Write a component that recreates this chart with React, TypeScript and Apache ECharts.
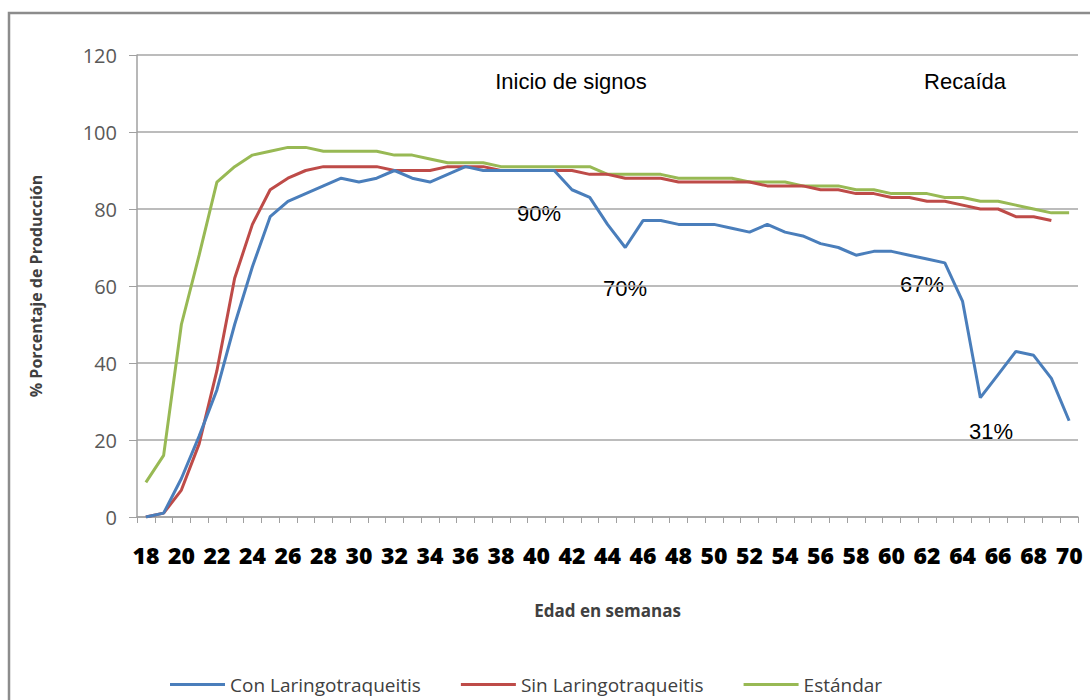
import React, { useEffect, useRef } from "react";
import * as echarts from "echarts";

const weeks: string[] = [];
for (let w = 18; w <= 70; w++) weeks.push(String(w));

const conLaringo = [
  0, 1, 10, 21, 33, 50, 65, 78, 82, 84, 86, 88, 87, 88, 90, 88, 87, 89, 91, 90,
  90, 90, 90, 90, 85, 83, 76, 70, 77, 77, 76, 76, 76, 75, 74, 76, 74, 73, 71, 70,
  68, 69, 69, 68, 67, 66, 56, 31, 37, 43, 42, 36, 25,
];
const sinLaringo = [
  0, 1, 7, 19, 38, 62, 76, 85, 88, 90, 91, 91, 91, 91, 90, 90, 90, 91, 91, 91,
  90, 90, 90, 90, 90, 89, 89, 88, 88, 88, 87, 87, 87, 87, 87, 86, 86, 86, 85, 85,
  84, 84, 83, 83, 82, 82, 81, 80, 80, 78, 78, 77, null,
];
const estandar = [
  9, 16, 50, 68, 87, 91, 94, 95, 96, 96, 95, 95, 95, 95, 94, 94, 93, 92, 92, 92,
  91, 91, 91, 91, 91, 91, 89, 89, 89, 89, 88, 88, 88, 88, 87, 87, 87, 86, 86, 86,
  85, 85, 84, 84, 84, 83, 83, 82, 82, 81, 80, 79, 79,
];

const seriesNames = ["Con Laringotraqueitis", "Sin Laringotraqueitis", "Estándar"];
const seriesColors = ["#4A7EBB", "#BE4B48", "#98B954"];

const annotations = [
  { text: "Inicio de signos", x: 571, y: 81 },
  { text: "Recaída", x: 965, y: 81 },
  { text: "90%", x: 539, y: 213 },
  { text: "70%", x: 625, y: 288 },
  { text: "67%", x: 922, y: 284 },
  { text: "31%", x: 991, y: 431 },
];

export default function App() {
  const ref = useRef<HTMLDivElement>(null);
  useEffect(() => {
    if (!ref.current) return;
    const chart = echarts.init(ref.current, null, { renderer: "svg" });
    const data = [conLaringo, sinLaringo, estandar];
    chart.setOption({
      animation: false,
      backgroundColor: "#ffffff",
      grid: { left: 137, right: 12, top: 55, bottom: 183 },
      legend: {
        data: seriesNames,
        left: 165,
        top: 670,
        icon: "rect",
        itemWidth: 55,
        itemHeight: 3,
        itemGap: 40,
        textStyle: { fontFamily: "Open Sans", fontSize: 19, color: "#404040" },
      },
      xAxis: {
        type: "category",
        data: weeks,
        boundaryGap: true,
        name: "Edad en semanas",
        nameLocation: "middle",
        nameGap: 85,
        nameTextStyle: {
          fontFamily: "Open Sans",
          fontWeight: "bold",
          fontSize: 17,
          color: "#404040",
        },
        axisLine: { lineStyle: { color: "#A0A0A0", width: 1.5 } },
        axisTick: { show: true, interval: 0, length: 6, lineStyle: { color: "#A0A0A0" } },
        axisLabel: {
          interval: 1,
          margin: 26,
          fontFamily: "Open Sans",
          fontWeight: 800,
          fontSize: 23,
          color: "#000000",
        },
        splitLine: { show: false },
      },
      yAxis: {
        type: "value",
        min: 0,
        max: 120,
        interval: 20,
        name: "% Porcentaje de Producción",
        nameLocation: "middle",
        nameGap: 93,
        nameTextStyle: {
          fontFamily: "Open Sans",
          fontWeight: "bold",
          fontSize: 16,
          color: "#404040",
        },
        axisLine: { show: true, lineStyle: { color: "#A0A0A0", width: 1.5 } },
        axisTick: { show: true, length: 8, lineStyle: { color: "#A0A0A0" } },
        axisLabel: {
          margin: 20,
          fontFamily: "Open Sans",
          fontSize: 20,
          color: "#595959",
        },
        splitLine: { lineStyle: { color: "#A6A6A6", width: 1.5 } },
      },
      series: seriesNames.map((name, i) => ({
        name,
        type: "line",
        data: data[i],
        symbol: "none",
        smooth: false,
        lineStyle: { color: seriesColors[i], width: 3 },
        itemStyle: { color: seriesColors[i] },
        z: 3 - i,
      })),
      graphic: [
        {
          type: "rect",
          shape: { x: 9, y: 13, width: 1200, height: 800 },
          style: { fill: "none", stroke: "#8C8C8C", lineWidth: 2.5 },
          silent: true,
        },
        ...annotations.map((a) => ({
          type: "text",
          x: a.x,
          y: a.y,
          style: {
            text: a.text,
            fontFamily: "Liberation Sans",
            fontSize: 22,
            fill: "#000000",
            align: "center",
            verticalAlign: "middle",
          },
        })),
      ],
    });
    return () => chart.dispose();
  }, []);
  return (
    <div
      ref={ref}
      style={{ position: "fixed", left: 0, top: 0, width: 1090, height: 700 }}
    />
  );
}
